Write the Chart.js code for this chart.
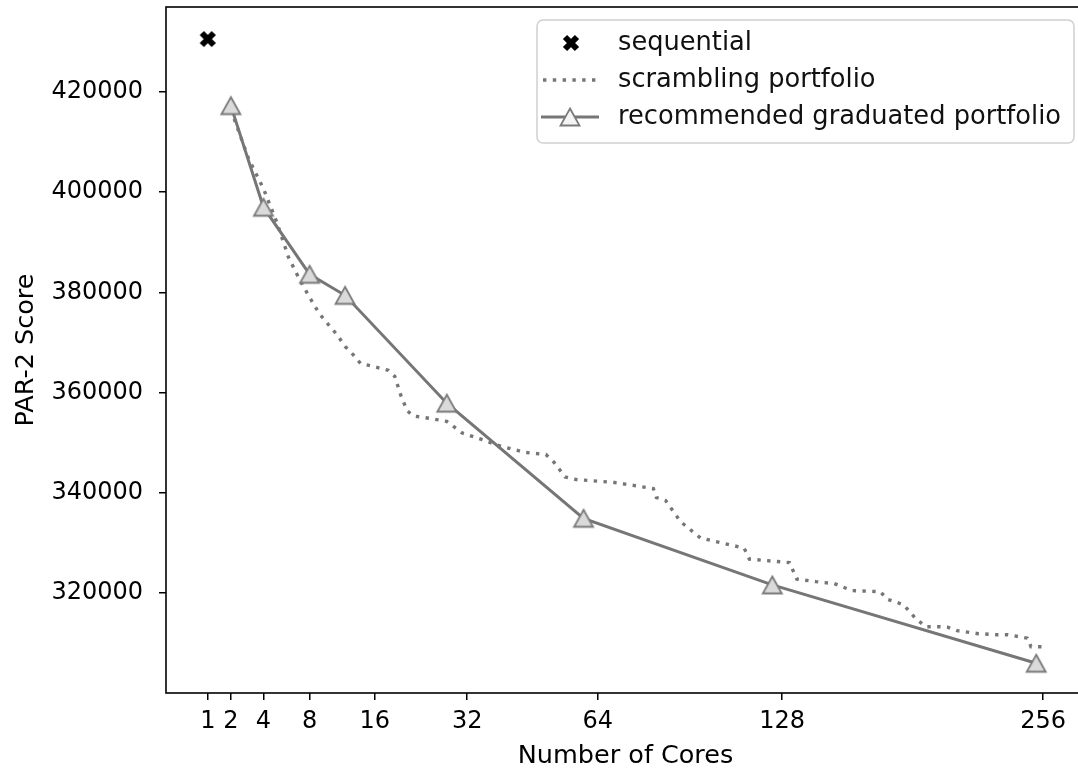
<!DOCTYPE html>
<html>
<head>
<meta charset="utf-8">
<title>PAR-2 Score vs Number of Cores</title>
<script src="https://cdn.jsdelivr.net/npm/chart.js@4.4.1/dist/chart.umd.min.js"></script>
<style>
  html, body { margin: 0; padding: 0; overflow: hidden; background: #fff; }
  /* the plot runs a little past the right edge, as in the source image */
  #wrap { width: 1078px; height: 772px; overflow: hidden; position: relative; }
  canvas { display: block; }
</style>
</head>
<body>
<div id="wrap"><canvas id="coresChart" width="1092" height="772"></canvas></div>
<script>
// Core counts are plotted on a square-root axis
const xTickCores = [1, 2, 4, 8, 16, 32, 64, 128, 256];
const yTicks = [320000, 340000, 360000, 380000, 400000, 420000];

const sequentialCores = [1];
const sequentialScore = [430600];

const scramblingCores = [2, 3, 4, 5, 6, 7, 8, 9, 10, 11, 12, 13, 14, 16, 18, 19, 20, 21, 22, 25, 28, 31, 35, 39, 45, 50, 52, 55, 58, 69, 81, 82, 85, 90, 97, 113, 115, 131, 134, 142, 150, 158, 171, 174, 182, 188, 193, 200, 204, 209, 220, 230, 236, 247, 249, 256];
const scramblingScore = [416500, 406700, 400700, 394100, 387000, 382600, 379000, 375800, 373600, 371600, 369200, 367600, 365800, 365100, 364400, 363200, 359200, 356300, 355300, 354800, 354200, 351900, 350600, 349300, 348000, 347600, 346100, 343100, 342600, 342000, 340800, 339000, 338400, 334200, 330900, 328900, 326700, 326000, 322700, 322200, 321800, 320400, 320200, 318700, 317600, 314800, 313200, 313200, 313100, 312400, 311800, 311600, 311600, 310900, 309200, 309200];

const graduatedCores = [2, 4, 8, 12, 28, 60, 124, 252];
const graduatedScore = [417300, 397000, 383600, 379400, 357850, 334850, 321550, 305900];

const seriesLabels = ["sequential", "scrambling portfolio", "recommended graduated portfolio"];

const FONT = "DejaVu Sans";
const lineGray = "#767676";
const dotDash = [3.4, 6.4];

// marker images: filled X and bbox-centred triangle
function makeX() {
  const c = document.createElement("canvas");
  c.width = 20; c.height = 20;
  const g = c.getContext("2d");
  g.strokeStyle = "#000";
  g.lineWidth = 6;
  g.beginPath();
  g.moveTo(4, 4); g.lineTo(16, 16);
  g.moveTo(16, 4); g.lineTo(4, 16);
  g.stroke();
  return c;
}

function makeTriangle(fill) {
  const c = document.createElement("canvas");
  c.width = 24; c.height = 22;
  const g = c.getContext("2d");
  g.beginPath();
  g.moveTo(12, 2.5);
  g.lineTo(21.5, 19.5);
  g.lineTo(2.5, 19.5);
  g.closePath();
  g.fillStyle = fill;
  g.fill();
  g.lineWidth = 1.8;
  g.strokeStyle = "#7a7a7a";
  g.stroke();
  return c;
}

const xMarker = makeX();
const triMarker = makeTriangle("#dadada");
const triLegend = makeTriangle("#f4f4f4");

const toPoints = (cores, scores) => cores.map((c, i) => ({ x: Math.sqrt(c), y: scores[i] }));

// all four spines
const frame = {
  id: "frame",
  afterDraw(chart) {
    const { ctx, chartArea: a } = chart;
    ctx.save();
    ctx.strokeStyle = "#000";
    ctx.lineWidth = 1.6;
    ctx.strokeRect(a.left, a.top, a.right - a.left, a.bottom - a.top);
    ctx.restore();
  },
};

// legend box in the upper right of the plot
const boxLegend = {
  id: "boxLegend",
  afterDraw(chart) {
    const ctx = chart.ctx;
    const x = 537, y = 20, w = 537, h = 123, r = 6;
    ctx.save();
    ctx.beginPath();
    ctx.roundRect(x, y, w, h, r);
    ctx.fillStyle = "rgba(255,255,255,0.85)";
    ctx.fill();
    ctx.strokeStyle = "#d0d0d0";
    ctx.lineWidth = 1.5;
    ctx.stroke();

    const rows = [43, 80, 117];
    ctx.drawImage(xMarker, 571 - 10, rows[0] - 10);

    ctx.strokeStyle = lineGray;
    ctx.lineWidth = 3.4;
    ctx.setLineDash(dotDash);
    ctx.beginPath();
    ctx.moveTo(543, rows[1]); ctx.lineTo(600, rows[1]);
    ctx.stroke();

    ctx.setLineDash([]);
    ctx.lineWidth = 3;
    ctx.beginPath();
    ctx.moveTo(541, rows[2]); ctx.lineTo(599, rows[2]);
    ctx.stroke();
    ctx.drawImage(triLegend, 570 - 12, rows[2] - 11);

    ctx.fillStyle = "#111";
    ctx.font = "25.7px '" + FONT + "'";
    ctx.textBaseline = "middle";
    ctx.textAlign = "left";
    seriesLabels.forEach((t, i) => ctx.fillText(t, 618, rows[i]));
    ctx.restore();
  },
};

const ctx = document.getElementById("coresChart").getContext("2d");
new Chart(ctx, {
  type: "scatter",
  data: {
    datasets: [
      {
        label: seriesLabels[0],
        data: toPoints(sequentialCores, sequentialScore),
        pointStyle: xMarker,
        showLine: false,
        order: 2,
      },
      {
        label: seriesLabels[1],
        data: toPoints(scramblingCores, scramblingScore),
        showLine: true,
        borderColor: lineGray,
        borderWidth: 3.4,
        borderDash: dotDash,
        pointRadius: 0,
        order: 1,
      },
      {
        label: seriesLabels[2],
        data: toPoints(graduatedCores, graduatedScore),
        showLine: true,
        borderColor: lineGray,
        borderWidth: 3,
        pointStyle: triMarker,
        order: 0,
      },
    ],
  },
  options: {
    responsive: false,
    animation: false,
    layout: { padding: { top: 5, right: 5, left: 0, bottom: 0 } },
    plugins: {
      legend: { display: false },
      tooltip: { enabled: false },
    },
    scales: {
      x: {
        type: "linear",
        min: 0.25,
        max: 16.75,
        afterFit: (scale) => {
          scale.height = 79;
          scale.paddingLeft = 0;
          scale.paddingRight = 0;
        },
        afterBuildTicks: (scale) => {
          scale.ticks = xTickCores.map((c) => ({ value: Math.sqrt(c) }));
        },
        ticks: {
          color: "#000",
          font: { family: FONT, size: 24 },
          padding: 7,
          maxRotation: 0,
          autoSkip: false,
          callback: (value, index) => String(xTickCores[index]),
        },
        grid: { drawOnChartArea: false, drawTicks: true, tickLength: 7, color: "#000", lineWidth: 1.5 },
        border: { display: false },
        title: {
          display: true,
          text: "Number of Cores",
          color: "#000",
          font: { family: FONT, size: 25.5 },
          padding: { top: 0, bottom: 0 },
        },
      },
      y: {
        type: "linear",
        min: 299950,
        max: 437000,
        afterFit: (scale) => {
          scale.width = 166;
          scale.paddingTop = 0;
          scale.paddingBottom = 0;
        },
        afterBuildTicks: (scale) => {
          scale.ticks = yTicks.map((v) => ({ value: v }));
        },
        ticks: {
          color: "#000",
          font: { family: FONT, size: 24 },
          padding: 16,
          callback: (value) => String(value),
        },
        grid: { drawOnChartArea: false, drawTicks: true, tickLength: 7, color: "#000", lineWidth: 1.5 },
        border: { display: false },
        title: {
          display: true,
          text: "PAR-2 Score",
          color: "#000",
          font: { family: FONT, size: 25.5 },
          padding: { top: 11, bottom: 0 },
        },
      },
    },
  },
  plugins: [frame, boxLegend],
});
</script>
</body>
</html>
